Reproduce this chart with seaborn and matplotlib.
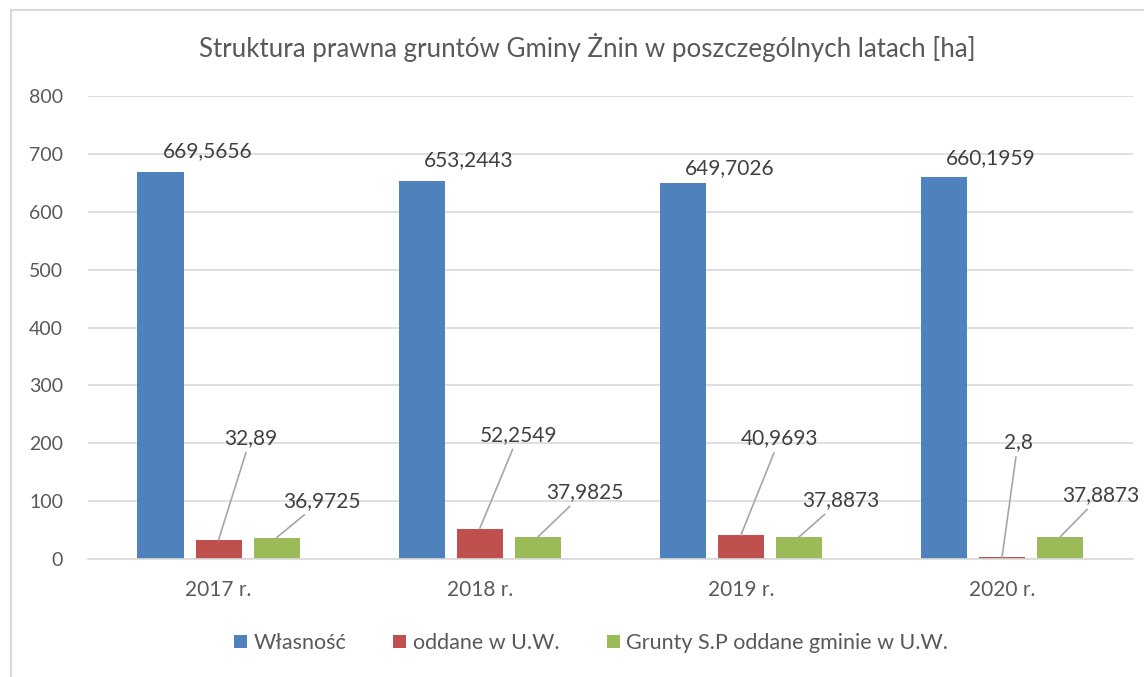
"""Struktura prawna gruntów Gminy Żnin - grouped bar chart."""

import pandas as pd
import matplotlib.pyplot as plt
import seaborn as sns
from matplotlib.patches import Rectangle, Patch

years = ["2017 r.", "2018 r.", "2019 r.", "2020 r."]
series_names = ["Własność", "oddane w U.W.", "Grunty S.P oddane gminie w U.W."]
wlasnosc = [669.5656, 653.2443, 649.7026, 660.1959]
oddane = [32.89, 52.2549, 40.9693, 2.8]
grunty_sp = [36.9725, 37.9825, 37.8873, 37.8873]

colors = ["#4F81BD", "#C0504D", "#9BBB59"]
text_color = "#595959"
grid_color = "#D9D9D9"

# label offsets in pixels relative to top of bar (dx, dy)
blue_offsets = [(47, 21), (47, 21), (47, 15), (47, 19)]
red_offsets = [(32, 102), (39, 94), (39, 97), (16, 115)]
green_offsets = [(45, 37), (47, 45), (42, 37), (41, 42)]

sns.set_style("white")
plt.rcParams["font.family"] = ["Lato", "DejaVu Sans"]

df = pd.DataFrame({
    "rok": years * 3,
    "seria": [s for s in series_names for _ in years],
    "wartosc": wlasnosc + oddane + grunty_sp,
})

fig = plt.figure(figsize=(11.44, 6.77), dpi=100)
ax = fig.add_axes([0.0769, 0.1743, 0.9131, 0.6837])

sns.barplot(
    data=df, x="rok", y="wartosc", hue="seria", hue_order=series_names,
    palette=colors, width=0.667, gap=0.207, ax=ax, errorbar=None,
    saturation=1, linewidth=0,
)

ax.set_ylim(0, 800)
ax.set_xlim(-0.5, 3.5)
ax.set_yticks(range(0, 801, 100))
ax.grid(axis="y", color=grid_color, linewidth=1.2)
ax.set_axisbelow(True)
for side in ["top", "right", "left"]:
    ax.spines[side].set_visible(False)
ax.spines["bottom"].set_color(grid_color)
ax.spines["bottom"].set_linewidth(1.2)
ax.tick_params(axis="y", length=0, pad=18, labelsize=14, labelcolor=text_color)
ax.tick_params(axis="x", length=0, pad=15, labelsize=15, labelcolor=text_color)
ax.set_xlabel("")
ax.set_ylabel("")

# data labels
series_vals = [wlasnosc, oddane, grunty_sp]
offsets = [blue_offsets, red_offsets, green_offsets]
for k, cont in enumerate(ax.containers):
    for i, bar in enumerate(cont):
        val = series_vals[k][i]
        xc = bar.get_x() + bar.get_width() / 2
        label = str(val).replace(".", ",")
        dx, dy = offsets[k][i]
        arrow = None
        if k > 0:
            arrow = dict(arrowstyle="-", color="#A6A6A6", lw=1.2, shrinkA=1, shrinkB=0)
        ax.annotate(label, xy=(xc, val), xytext=(dx, dy), textcoords="offset pixels",
                    ha="center", va="center", fontsize=15, color="#404040",
                    arrowprops=arrow)

if ax.get_legend() is not None:
    ax.get_legend().remove()

handles = [Patch(facecolor=c, edgecolor="none") for c in colors]
fig.legend(handles, series_names, loc="center", bbox_to_anchor=(0.5166, 0.050),
           ncol=3, frameon=False, fontsize=15.5, labelcolor=text_color,
           handlelength=0.6, handleheight=0.6, handletextpad=0.3, columnspacing=2.2)

fig.text(0.513, 1 - 47 / 677, "Struktura prawna gruntów Gminy Żnin w poszczególnych latach [ha]",
         ha="center", va="center", fontsize=18.6, color=text_color, fontweight="normal")

fig.patches.append(Rectangle((11 / 1144, -0.1), 1.2, 1.085, transform=fig.transFigure,
                             fill=False, edgecolor=grid_color, linewidth=1.5))

fig.savefig("out.png", dpi=100)
